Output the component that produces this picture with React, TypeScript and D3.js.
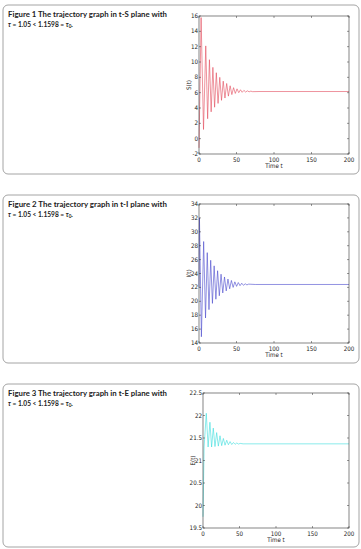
import React from 'react';
import * as d3 from 'd3';

const xTicks = [0, 50, 100, 150, 200];
const sTicks = [-2, 0, 2, 4, 6, 8, 10, 12, 14, 16];
const iTicks = [14, 16, 18, 20, 22, 24, 26, 28, 30, 32, 34];
const eTicks = [19.5, 20, 20.5, 21, 21.5, 22, 22.5];

// S(t) extrema (time, value)
const sTime = [0, 2.8, 6.0, 9.0, 11.5, 13.9, 16.2, 18.5, 20.8, 23.1, 25.4, 27.7, 30.0, 32.3, 34.6, 36.9, 39.2, 41.5, 43.8, 46.1, 48.4, 50.7, 53.0, 55.3, 57.6, 59.9, 62.2, 64.5, 66.8, 69.1, 71.4, 80, 200];
const sVal = [-1.2, 15.8, 1.2, 12.1, 2.6, 10.3, 3.5, 9.3, 4.1, 8.6, 4.6, 8.0, 5.0, 7.5, 5.3, 7.2, 5.55, 6.9, 5.75, 6.65, 5.9, 6.5, 6.0, 6.38, 6.05, 6.3, 6.08, 6.24, 6.11, 6.2, 6.13, 6.15, 6.15];

// I(t) extrema
const iTime = [0, 0.6, 3.2, 6.2, 8.7, 11.0, 13.3, 15.6, 17.9, 20.2, 22.5, 24.8, 27.1, 29.4, 31.7, 34.0, 36.3, 38.6, 40.9, 43.2, 45.5, 47.8, 50.1, 52.4, 54.7, 57.0, 59.3, 61.6, 63.9, 66.2, 75, 200];
const iVal = [22.0, 32.0, 14.9, 28.6, 17.6, 27.0, 18.8, 25.9, 19.7, 25.1, 20.3, 24.4, 20.8, 23.9, 21.2, 23.5, 21.5, 23.2, 21.8, 23.0, 22.0, 22.8, 22.15, 22.7, 22.25, 22.6, 22.3, 22.52, 22.36, 22.47, 22.42, 22.42];

// E(t) extrema
const eTime = [0, 1.5, 4.5, 7.0, 9.5, 11.8, 14.1, 16.4, 18.7, 21.0, 23.3, 25.6, 27.9, 30.2, 32.5, 34.8, 37.1, 39.4, 41.7, 44.0, 46.3, 48.6, 50.9, 55, 200];
const eVal = [19.75, 21.3, 22.05, 21.3, 21.85, 21.3, 21.72, 21.31, 21.62, 21.32, 21.55, 21.33, 21.49, 21.34, 21.45, 21.35, 21.42, 21.355, 21.4, 21.36, 21.39, 21.365, 21.38, 21.37, 21.37];

const TICK_FONT = "'Liberation Sans Narrow', 'DejaVu Sans Condensed', 'Liberation Sans', sans-serif";
const TITLE_FONT = "Lato, 'Open Sans', sans-serif";

type PanelProps = {
  top: number;
  bottom: number;
  num: number;
  plane: string;
  x0: number;
  x1: number;
  y0: number;
  y1: number;
  yDomain: [number, number];
  yTicks: number[];
  yLabel: string;
  times: number[];
  values: number[];
  color: string;
  strokeW: number;
};

function Panel(p: PanelProps) {
  const x = d3.scaleLinear().domain([0, 200]).range([p.x0, p.x1]);
  const y = d3.scaleLinear().domain(p.yDomain).range([p.y1, p.y0]);
  const pts: [number, number][] = p.times.map((t, i) => [t, p.values[i]]);
  const line = d3
    .line<[number, number]>()
    .x((d) => x(d[0]))
    .y((d) => y(d[1]));
  const tl = 2;
  return (
    <g>
      <rect
        x={3}
        y={p.top}
        width={356}
        height={p.bottom - p.top}
        rx={5}
        ry={5}
        fill="none"
        stroke="#9a9a9a"
        strokeWidth={0.9}
      />
      <text x={8} y={p.top + 12.3} fontFamily={TITLE_FONT} fontWeight={700} fontSize={6.6} fill="#222" textLength={159} lengthAdjust="spacingAndGlyphs">
        {`Figure ${p.num}  The trajectory graph in t-${p.plane} plane with`}
      </text>
      <text x={8} y={p.top + 21.6} fontFamily={TITLE_FONT} fontWeight={700} fontSize={6.6} fill="#222">
        <tspan fontStyle="italic">τ</tspan>
        <tspan>{' = 1.05 < 1.1598 = '}</tspan>
        <tspan fontStyle="italic">τ</tspan>
        <tspan fontSize={4.6} dy={1.3}>0</tspan>
        <tspan dy={-1.3}>.</tspan>
      </text>
      <path d={line(pts) || ''} fill="none" stroke={p.color} strokeWidth={p.strokeW} strokeLinejoin="round" />
      <rect x={p.x0} y={p.y0} width={p.x1 - p.x0} height={p.y1 - p.y0} fill="none" stroke="#333" strokeWidth={0.6} />
      {xTicks.map((t) => (
        <g key={'x' + t}>
          <line x1={x(t)} x2={x(t)} y1={p.y1} y2={p.y1 - tl} stroke="#333" strokeWidth={0.5} />
          <line x1={x(t)} x2={x(t)} y1={p.y0} y2={p.y0 + tl} stroke="#333" strokeWidth={0.5} />
          <text x={x(t)} y={p.y1 + 7.6} textAnchor="middle" fontFamily={TICK_FONT} fontSize={6.2} fill="#222">
            {String(t)}
          </text>
        </g>
      ))}
      {p.yTicks.map((t) => (
        <g key={'y' + t}>
          <line x1={p.x0} x2={p.x0 + tl} y1={y(t)} y2={y(t)} stroke="#333" strokeWidth={0.5} />
          <line x1={p.x1} x2={p.x1 - tl} y1={y(t)} y2={y(t)} stroke="#333" strokeWidth={0.5} />
          <text x={p.x0 - 1} y={y(t) + 2} textAnchor="end" fontFamily={TICK_FONT} fontSize={6.2} fill="#222">
            {String(t)}
          </text>
        </g>
      ))}
      <text x={(p.x0 + p.x1) / 2} y={p.y1 + 14} textAnchor="middle" fontFamily={TICK_FONT} fontSize={6.2} fill="#222">
        Time t
      </text>
      <text
        transform={`translate(${p.x0 - 8.5},${(p.y0 + p.y1) / 2}) rotate(-90)`}
        textAnchor="middle"
        fontFamily={TICK_FONT}
        fontSize={6.2}
        fill="#222"
      >
        {p.yLabel}
      </text>
    </g>
  );
}

export default function App() {
  return (
    <svg width={361} height={549} style={{ position: 'absolute', left: 0, top: 0, background: '#fff' }}>
      <rect x={0} y={0} width={361} height={549} fill="#fff" />
      <Panel top={5} bottom={174} num={1} plane="S" x0={199} x1={349} y0={16} y1={154} yDomain={[-2, 16]} yTicks={sTicks} yLabel="S(t)" times={sTime} values={sVal} color="#e24a5a" strokeW={0.6} />
      <Panel top={195} bottom={363} num={2} plane="I" x0={199} x1={349} y0={204} y1={343} yDomain={[14, 34]} yTicks={iTicks} yLabel="I(t)" times={iTime} values={iVal} color="#4848cc" strokeW={0.6} />
      <Panel top={384} bottom={547} num={3} plane="E" x0={203} x1={349} y0={393} y1={528} yDomain={[19.5, 22.5]} yTicks={eTicks} yLabel="E(t)" times={eTime} values={eVal} color="#3adede" strokeW={0.6} />
    </svg>
  );
}
